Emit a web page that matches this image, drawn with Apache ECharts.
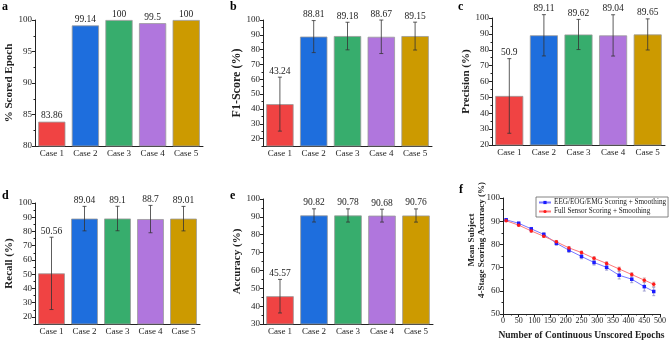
<!DOCTYPE html>
<html>
<head>
<meta charset="utf-8">
<script src="https://cdn.jsdelivr.net/npm/echarts@6/dist/echarts.min.js"></script>
<style>
  html, body { margin: 0; padding: 0; background: #fff; }
  #chart { width: 669px; height: 342px; }
</style>
</head>
<body>
<div id="chart"></div>
<script>
// ---- data ----
const cases = ['Case 1', 'Case 2', 'Case 3', 'Case 4', 'Case 5'];

const scoredEpoch = [83.86, 99.14, 100, 99.5, 100];

const f1Score = [43.24, 88.81, 89.18, 88.67, 89.15];
const f1Err = [18.2, 10.8, 9.3, 11.3, 9.4];

const precision = [50.9, 89.11, 89.62, 89.04, 89.65];
const precisionErr = [23.5, 13.0, 9.5, 13.0, 9.8];

const recall = [50.56, 89.04, 89.1, 88.7, 89.01];
const recallErr = [25.4, 8.6, 8.6, 9.6, 8.6];

const accuracy = [45.57, 90.82, 90.78, 90.68, 90.76];
const accuracyErr = [9.4, 3.7, 3.7, 3.6, 3.7];

const unscoredEpochs = [10, 50, 90, 130, 170, 210, 250, 290, 330, 370, 410, 450, 480];
const eegAcc = [90.6, 89.1, 86.7, 84.3, 80.5, 77.5, 74.8, 72.2, 70.1, 66.7, 65.0, 61.8, 59.7];
const eegErr = [0.3, 0.5, 0.6, 0.7, 0.9, 1.0, 1.0, 1.1, 1.2, 1.6, 1.5, 1.9, 1.8];
const fullAcc = [90.2, 88.3, 85.8, 83.5, 81.1, 78.5, 76.5, 74.0, 71.8, 69.4, 67.0, 64.6, 62.8];
const fullErr = [0.3, 0.4, 0.5, 0.5, 0.6, 0.6, 0.6, 0.7, 0.7, 0.8, 0.8, 0.9, 0.9];

const ticks20 = [20, 30, 40, 50, 60, 70, 80, 90, 100];

// ---- chart ----
const chart = echarts.init(document.getElementById('chart'));
const FONT = '"Liberation Serif", serif';
const INK = '#222';
const caseColors = ['#F04343', '#1E6EDD', '#37AD6D', '#B076DD', '#CC9A00'];

const grids = [
    { left: 35, top: 20, width: 168, height: 126 },   // a
    { left: 263, top: 20, width: 169, height: 126 },  // b
    { left: 492, top: 18, width: 173, height: 127 },  // c
    { left: 35, top: 203, width: 165, height: 121 },  // d
    { left: 263, top: 199, width: 170, height: 125 }, // e
    { left: 503, top: 198, width: 158, height: 116 }  // f
];

function catAxis(gi) {
    return {
        type: 'category', gridIndex: gi, data: cases,
        axisLine: { lineStyle: { color: INK, width: 1 } },
        axisTick: { length: 3, lineStyle: { color: INK } },
        axisLabel: { fontFamily: FONT, fontSize: 9, color: INK, margin: 3 }
    };
}

function valAxis(gi, min, max, interval, name, nameGap, nameSize) {
    return {
        type: 'value', gridIndex: gi, position: 'left', min: min, max: max, interval: interval,
        splitLine: { show: false },
        axisLine: { show: true, lineStyle: { color: INK, width: 1 } },
        axisTick: { show: true, length: 3, lineStyle: { color: INK } },
        minorTick: { show: true, splitNumber: 2, length: 1.5, lineStyle: { color: INK } },
        axisLabel: { fontFamily: FONT, fontSize: 9, color: INK, margin: 3 },
        name: name, nameLocation: 'middle', nameGap: nameGap,
        nameTextStyle: { fontFamily: FONT, fontWeight: 'bold', fontSize: nameSize, color: INK }
    };
}

// axes starting at 15: labels / major ticks at 20..100, minor ticks from an overlay axis
function valAxis15(gi, name, nameGap, nameSize) {
    const ax = valAxis(gi, 15, 100, 5, name, nameGap, nameSize);
    ax.minorTick = { show: false };
    ax.axisLabel.customValues = ticks20;
    ax.axisTick.customValues = ticks20;
    return ax;
}
function minorAxis(gi) {
    return {
        type: 'value', gridIndex: gi, position: 'left', offset: 0, min: 15, max: 100, interval: 5,
        splitLine: { show: false }, axisLine: { show: false },
        axisLabel: { show: false },
        axisTick: { show: true, length: 1.5, lineStyle: { color: INK } }
    };
}

function barSeries(gi, values) {
    return {
        type: 'bar', xAxisIndex: gi, yAxisIndex: gi, data: values,
        barCategoryGap: '19%',
        itemStyle: {
            color: p => caseColors[p.dataIndex],
            borderColor: '#9a9a9a', borderWidth: 0.8
        }
    };
}

// error bar + value label above it
function labelSeries(gi, values, errs) {
    return {
        type: 'custom', xAxisIndex: gi, yAxisIndex: gi, z: 5,
        data: values.map((v, i) => [i, v, errs ? errs[i] : 0]),
        renderItem: function (params, api) {
            const i = api.value(0), m = api.value(1), e = api.value(2);
            const top = api.coord([i, m + e]);
            const bot = api.coord([i, m - e]);
            const x = top[0];
            const children = [];
            const ls = { stroke: '#333', lineWidth: 0.8 };
            if (e > 0) {
                children.push({ type: 'line', shape: { x1: x, y1: top[1], x2: x, y2: bot[1] }, style: ls });
                children.push({ type: 'line', shape: { x1: x - 2, y1: top[1], x2: x + 2, y2: top[1] }, style: ls });
                children.push({ type: 'line', shape: { x1: x - 2, y1: bot[1], x2: x + 2, y2: bot[1] }, style: ls });
            }
            children.push({
                type: 'text',
                style: {
                    text: String(values[i]), x: x, y: top[1] - 1,
                    align: 'center', verticalAlign: 'bottom',
                    font: '9.5px ' + FONT, fill: INK
                }
            });
            return { type: 'group', children: children };
        }
    };
}

function lineErrSeries(values, errs, color) {
    return {
        type: 'custom', xAxisIndex: 5, yAxisIndex: 5, z: 1,
        data: unscoredEpochs.map((x, i) => [x, values[i], errs[i]]),
        renderItem: function (params, api) {
            const x = api.value(0), m = api.value(1), e = api.value(2);
            const top = api.coord([x, m + e]);
            const bot = api.coord([x, m - e]);
            const ls = { stroke: color, lineWidth: 0.8 };
            return {
                type: 'group', children: [
                    { type: 'line', shape: { x1: top[0], y1: top[1], x2: top[0], y2: bot[1] }, style: ls },
                    { type: 'line', shape: { x1: top[0] - 1.5, y1: top[1], x2: top[0] + 1.5, y2: top[1] }, style: ls },
                    { type: 'line', shape: { x1: top[0] - 1.5, y1: bot[1], x2: top[0] + 1.5, y2: bot[1] }, style: ls }
                ]
            };
        }
    };
}

const xAxes = [catAxis(0), catAxis(1), catAxis(2), catAxis(3), catAxis(4), {
    type: 'value', gridIndex: 5, min: 0, max: 500, interval: 50,
    splitLine: { show: false },
    axisLine: { lineStyle: { color: INK, width: 1 } },
    axisTick: { length: 3, lineStyle: { color: INK } },
    minorTick: { show: true, splitNumber: 2, length: 1.5, lineStyle: { color: INK } },
    axisLabel: { fontFamily: FONT, fontSize: 8, color: INK, margin: 3 },
    name: 'Number of Continuous Unscored Epochs', nameLocation: 'middle', nameGap: 17,
    nameTextStyle: { fontFamily: FONT, fontWeight: 'bold', fontSize: 9.5, color: INK }
}];

const fY = valAxis(5, 50, 100, 10, '', 0, 10);
fY.axisLabel.fontSize = 9;

const yAxes = [
    valAxis(0, 80, 100, 5, '% Scored Epoch', 19, 11),
    valAxis15(1, 'F1-Score (%)', 20, 12),
    valAxis(2, 20, 100, 10, 'Precision (%)', 18, 11),
    valAxis15(3, 'Recall (%)', 20, 11),
    valAxis(4, 30, 100, 10, 'Accuracy (%)', 18.5, 11),
    fY,
    minorAxis(1),
    minorAxis(3)
];

function letter(t, x, y) {
    return { type: 'text', left: x, top: y, style: { text: t, font: 'bold 12px ' + FONT, fill: '#000' } };
}

const option = {
    backgroundColor: '#fff',
    animation: false,
    textStyle: { fontFamily: FONT },
    grid: grids,
    xAxis: xAxes,
    yAxis: yAxes,
    legend: {
        data: ['EEG/EOG/EMG Scoring + Smoothing', 'Full Sensor Scoring + Smoothing'],
        orient: 'vertical', left: 536, top: 197,
        itemWidth: 12, itemHeight: 4, itemGap: 2,
        padding: [2, 2, 2, 2],
        borderColor: '#666', borderWidth: 0.8,
        textStyle: { fontFamily: FONT, fontSize: 7.2, color: INK, padding: [0, 0, 0, -2] }
    },
    graphic: [
        letter('a', 2, 1), letter('b', 230, 1), letter('c', 458, 1),
        letter('d', 2, 190), letter('e', 230, 190), letter('f', 459, 184),
        {
            type: 'text', x: 472, y: 240, rotation: Math.PI / 2,
            style: { text: 'Mean Subject', font: 'bold 9px ' + FONT, fill: INK, align: 'center', verticalAlign: 'middle' }
        },
        {
            type: 'text', x: 482, y: 240, rotation: Math.PI / 2,
            style: { text: '4-Stage Scoring Accuracy (%)', font: 'bold 9px ' + FONT, fill: INK, align: 'center', verticalAlign: 'middle' }
        }
    ],
    series: [
        barSeries(0, scoredEpoch), labelSeries(0, scoredEpoch, null),
        barSeries(1, f1Score), labelSeries(1, f1Score, f1Err),
        barSeries(2, precision), labelSeries(2, precision, precisionErr),
        barSeries(3, recall), labelSeries(3, recall, recallErr),
        barSeries(4, accuracy), labelSeries(4, accuracy, accuracyErr),
        lineErrSeries(eegAcc, eegErr, '#8c8cc8'),
        lineErrSeries(fullAcc, fullErr, '#c88c8c'),
        {
            name: 'EEG/EOG/EMG Scoring + Smoothing', type: 'line', xAxisIndex: 5, yAxisIndex: 5, z: 3,
            data: unscoredEpochs.map((x, i) => [x, eegAcc[i]]),
            symbol: 'rect', symbolSize: 3.5,
            lineStyle: { color: '#7878ff', width: 1 },
            itemStyle: { color: '#1a1aff' }
        },
        {
            name: 'Full Sensor Scoring + Smoothing', type: 'line', xAxisIndex: 5, yAxisIndex: 5, z: 3,
            data: unscoredEpochs.map((x, i) => [x, fullAcc[i]]),
            symbol: 'circle', symbolSize: 3.5,
            lineStyle: { color: '#ff7878', width: 1 },
            itemStyle: { color: '#ff1a1a' }
        }
    ]
};

chart.setOption(option);
</script>
</body>
</html>
